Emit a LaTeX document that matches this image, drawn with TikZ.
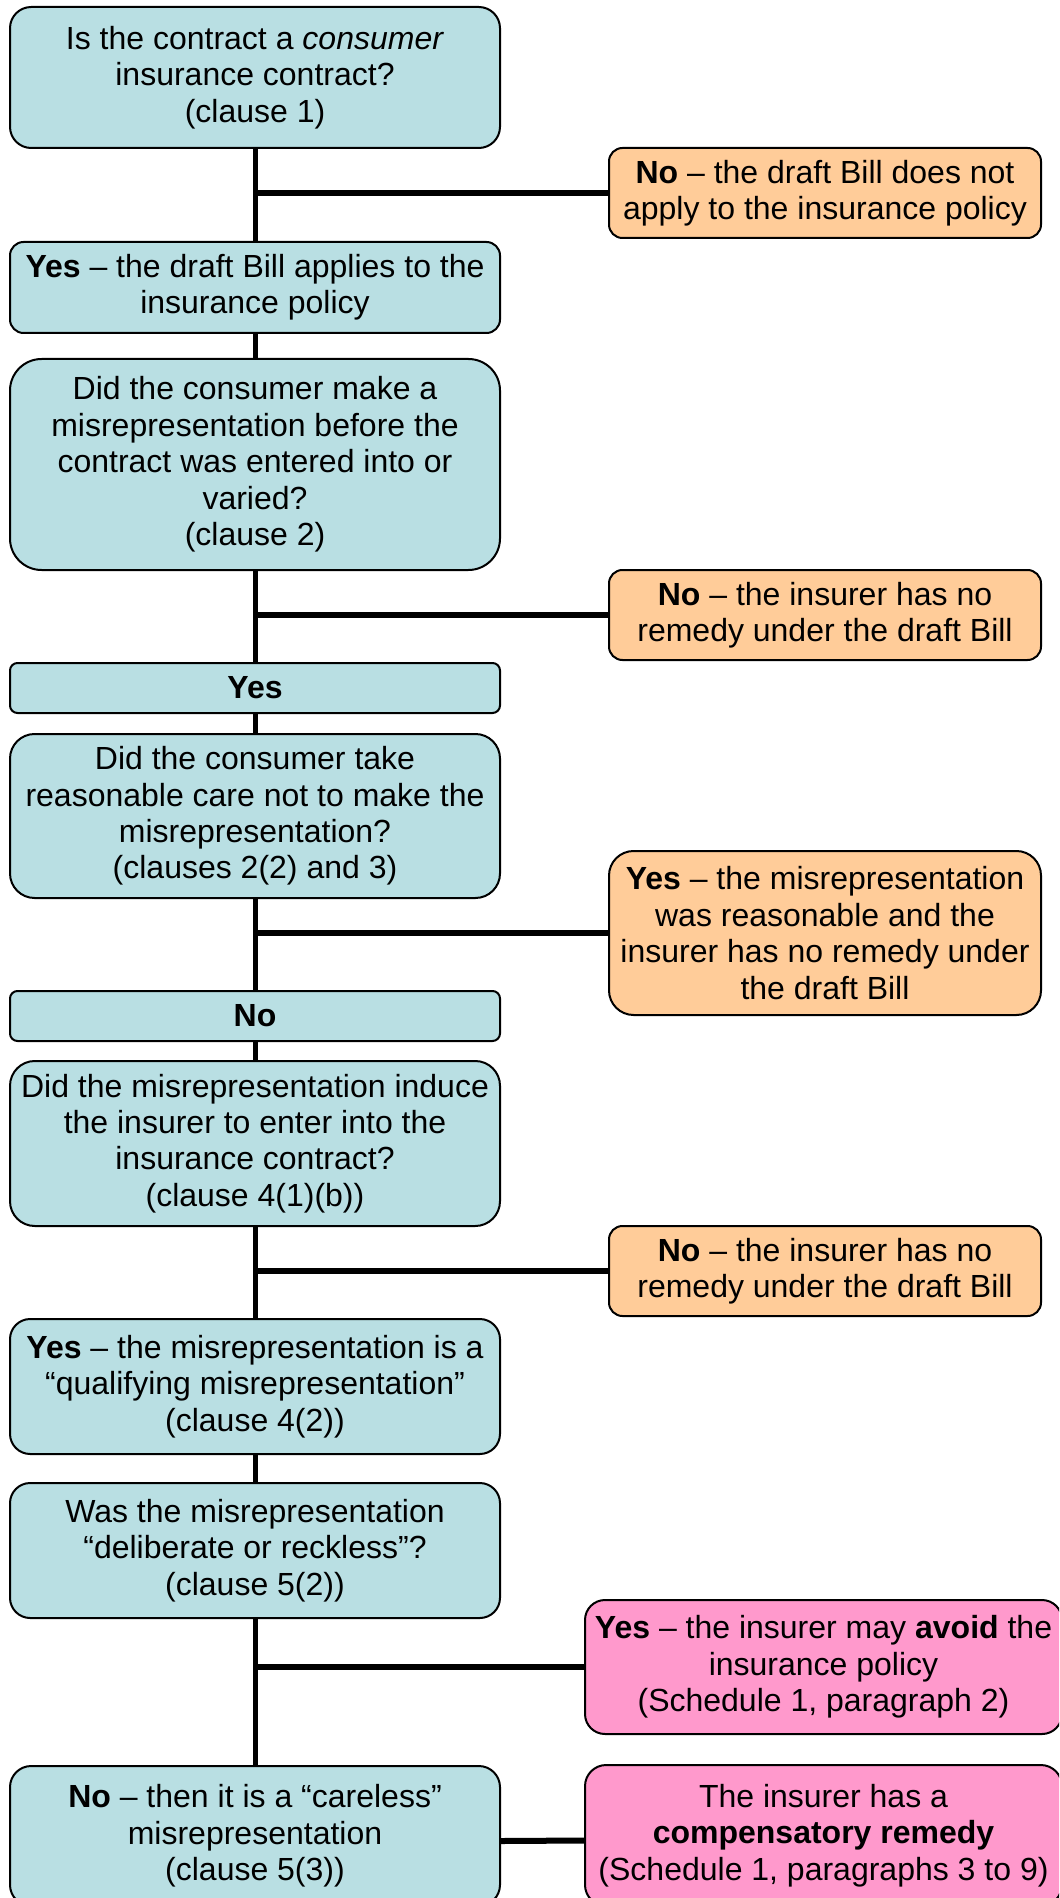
\documentclass[tikz,border=0pt]{standalone}
\usepackage{fontspec}
\setmainfont{Liberation Sans}
\definecolor{qblue}{RGB}{185,223,227}
\definecolor{nopeach}{RGB}{255,204,153}
\definecolor{endpink}{RGB}{255,153,204}
\tikzset{
  box/.style={draw, line width=1pt, rounded corners=#1, align=center, inner sep=2pt, font=\fontsize{16}{18.2}\selectfont},
  qbox/.style={box=#1, fill=qblue, minimum width=245pt},
  rbox/.style={box=#1, fill=nopeach, minimum width=216pt},
  pbox/.style={box=#1, fill=endpink, minimum width=238.5pt},
  link/.style={line width=2.5pt},
  branch/.style={line width=3pt}
}
\begin{document}
\begin{tikzpicture}[x=0.5pt, y=-0.5pt]
\clip (0,0) rectangle (1059,1898);
\node[qbox=10.6pt, minimum height=70.5pt] (q1) at (255,77.5) {Is the contract a \textit{consumer}\\ insurance contract?\\ (clause 1)};
\node[qbox=6.8pt, minimum height=45.5pt] (a1) at (255,287.5) {\textbf{Yes} – the draft Bill applies to the\\ insurance policy};
\node[qbox=15.8pt, minimum height=105.5pt] (q2) at (255,464.5) {Did the consumer make a\\ misrepresentation before the\\ contract was entered into or\\ varied?\\ (clause 2)};
\node[qbox=3.75pt, minimum height=25pt] (yes) at (255,688) {\textbf{Yes}};
\node[qbox=12.3pt, minimum height=82pt] (q3) at (255,816) {Did the consumer take\\ reasonable care not to make the\\ misrepresentation?\\ (clauses 2(2) and 3)};
\node[qbox=3.75pt, minimum height=25pt] (no) at (255,1016) {\textbf{No}};
\node[qbox=12.4pt, minimum height=82.5pt] (q4) at (255,1143.5) {Did the misrepresentation induce\\ the insurer to enter into the\\ insurance contract?\\ (clause 4(1)(b))};
\node[qbox=10.1pt, minimum height=67.5pt] (a4) at (255,1386.5) {\textbf{Yes} – the misrepresentation is a\\ “qualifying misrepresentation”\\ (clause 4(2))};
\node[qbox=10.1pt, minimum height=67.5pt] (q5) at (255,1550.5) {Was the misrepresentation\\ “deliberate or reckless”?\\ (clause 5(2))};
\node[qbox=10.6pt, minimum height=70pt] (a5) at (255,1836) {\textbf{No} – then it is a “careless”\\ misrepresentation\\ (clause 5(3))};
\node[rbox=6.75pt, minimum height=45pt] (r1) at (825,193) {\textbf{No} – the draft Bill does not\\ apply to the insurance policy};
\node[rbox=6.75pt, minimum height=45pt] (r2) at (825,615) {\textbf{No} – the insurer has no\\ remedy under the draft Bill};
\node[rbox=12.3pt, minimum height=82pt] (r3) at (825,933) {\textbf{Yes} – the misrepresentation\\ was reasonable and the\\ insurer has no remedy under\\ the draft Bill};
\node[rbox=6.75pt, minimum height=45pt] (r4) at (825,1271) {\textbf{No} – the insurer has no\\ remedy under the draft Bill};
\node[pbox=10pt, minimum height=67pt] (p1) at (823.5,1667) {\textbf{Yes} – the insurer may \textbf{avoid} the\\ insurance policy\\ (Schedule 1, paragraph 2)};
\node[pbox=10.6pt, minimum height=70.5pt] (p2) at (823.5,1835.5) {The insurer has a\\ \textbf{compensatory remedy}\\ (Schedule 1, paragraphs 3 to 9)};
\draw[link] (q1) -- (a1);
\draw[link] (a1) -- (q2);
\draw[link] (q2) -- (yes);
\draw[link] (yes) -- (q3);
\draw[link] (q3) -- (no);
\draw[link] (no) -- (q4);
\draw[link] (q4) -- (a4);
\draw[link] (a4) -- (q5);
\draw[link] (q5) -- (a5);
\draw[branch] (q1.south |- r1) -- (r1);
\draw[branch] (q2.south |- r2) -- (r2);
\draw[branch] (q3.south |- r3) -- (r3);
\draw[branch] (q4.south |- r4) -- (r4);
\draw[branch] (q5.south |- p1) -- (p1);
\draw[branch] ([yshift=-2.5pt]a5.east) -- ([yshift=-2.5pt]p2.west);
\end{tikzpicture}
\end{document}
